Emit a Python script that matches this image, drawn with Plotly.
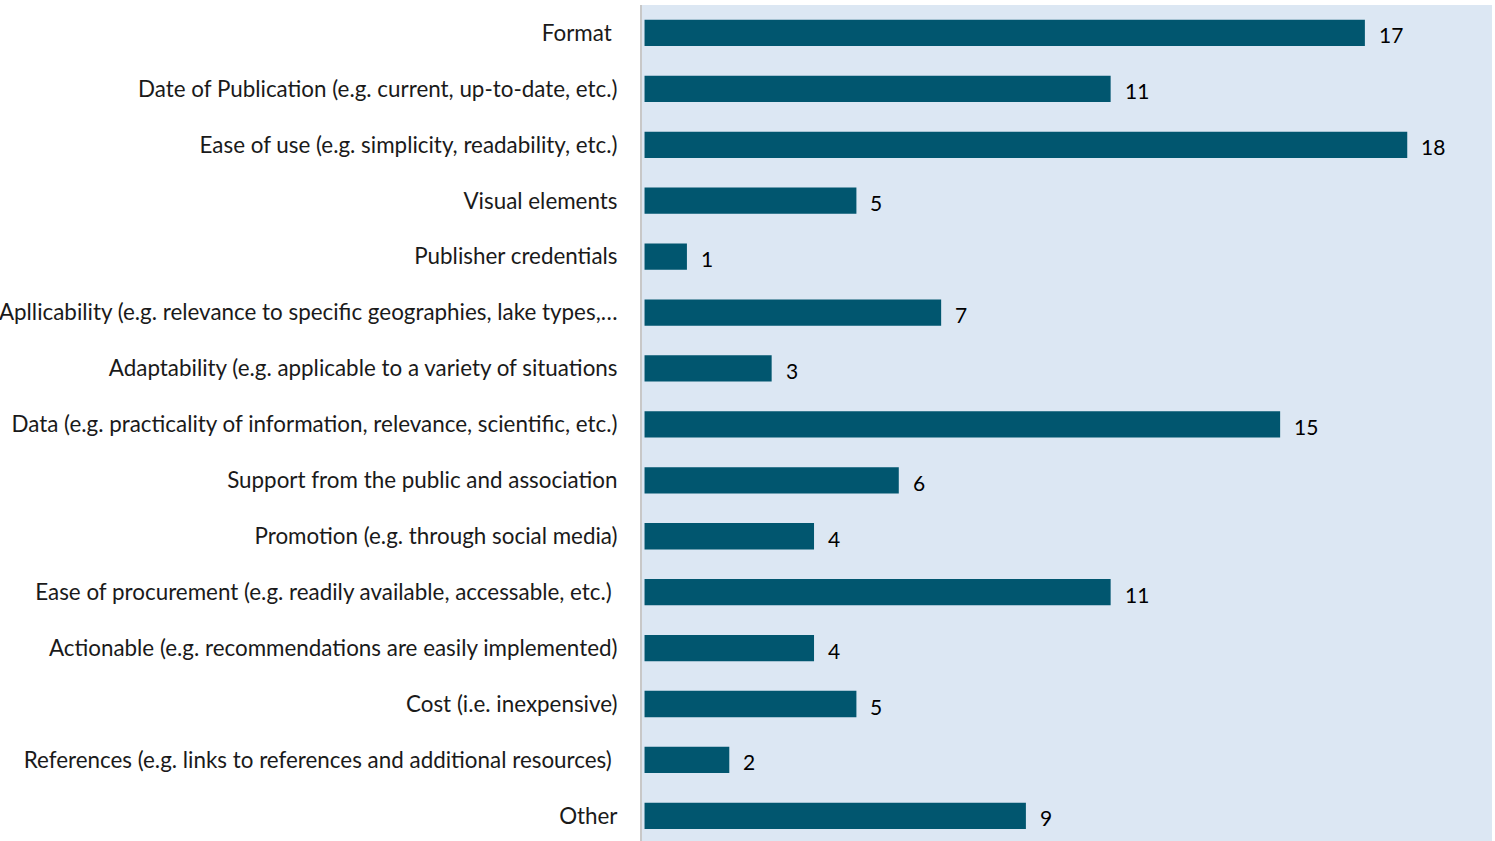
import plotly.graph_objects as go

# survey categories, top to bottom
categories = [
    "Format ",
    "Date of Publication (e.g. current, up-to-date, etc.)",
    "Ease of use (e.g. simplicity, readability, etc.)",
    "Visual elements",
    "Publisher credentials",
    "Apllicability (e.g. relevance to specific geographies, lake types,…",
    "Adaptability (e.g. applicable to a variety of situations",
    "Data (e.g. practicality of information, relevance, scientific, etc.)",
    "Support from the public and association",
    "Promotion (e.g. through social media)",
    "Ease of procurement (e.g. readily available, accessable, etc.) ",
    "Actionable (e.g. recommendations are easily implemented)",
    "Cost (i.e. inexpensive)",
    "References (e.g. links to references and additional resources) ",
    "Other",
]
counts = [17, 11, 18, 5, 1, 7, 3, 15, 6, 4, 11, 4, 5, 2, 9]

BAR_COLOR = "#01566F"
BG_COLOR = "#DCE7F3"
FONT = "Lato"

fig = go.Figure()

fig.add_trace(
    go.Bar(
        y=categories,
        x=counts,
        orientation="h",
        marker=dict(color=BAR_COLOR, line=dict(width=0)),
        hovertemplate="%{y}: %{x}<extra></extra>",
    )
)

# value labels just past the end of each bar
for cat, val in zip(categories, counts):
    fig.add_annotation(
        x=val,
        y=cat,
        text=str(val),
        showarrow=False,
        xanchor="left",
        xshift=12,
        yshift=-2,
        font=dict(family=FONT, size=21, color="#000000"),
    )

fig.update_layout(
    width=1495,
    height=841,
    margin=dict(l=642, r=3, t=5, b=0),
    paper_bgcolor="white",
    plot_bgcolor=BG_COLOR,
    bargap=0.53,
    showlegend=False,
    font=dict(family=FONT, size=22, color="#000000"),
    xaxis=dict(
        range=[-0.06, 20],
        visible=False,
        showgrid=False,
        zeroline=False,
    ),
    yaxis=dict(
        type="category",
        categoryorder="array",
        categoryarray=categories,
        range=[len(categories) - 0.55, -0.5],
        automargin=False,
        showgrid=False,
        zeroline=False,
        showline=True,
        linecolor="#C8C8C8",
        linewidth=2,
        ticks="",
        ticklabelstandoff=18,
        tickfont=dict(family=FONT, size=22.4, color="#1a1a1a"),
    ),
)

fig.write_html(
    "out.html",
    config={"displayModeBar": False},
    post_script="document.body.style.margin='0';",
)
